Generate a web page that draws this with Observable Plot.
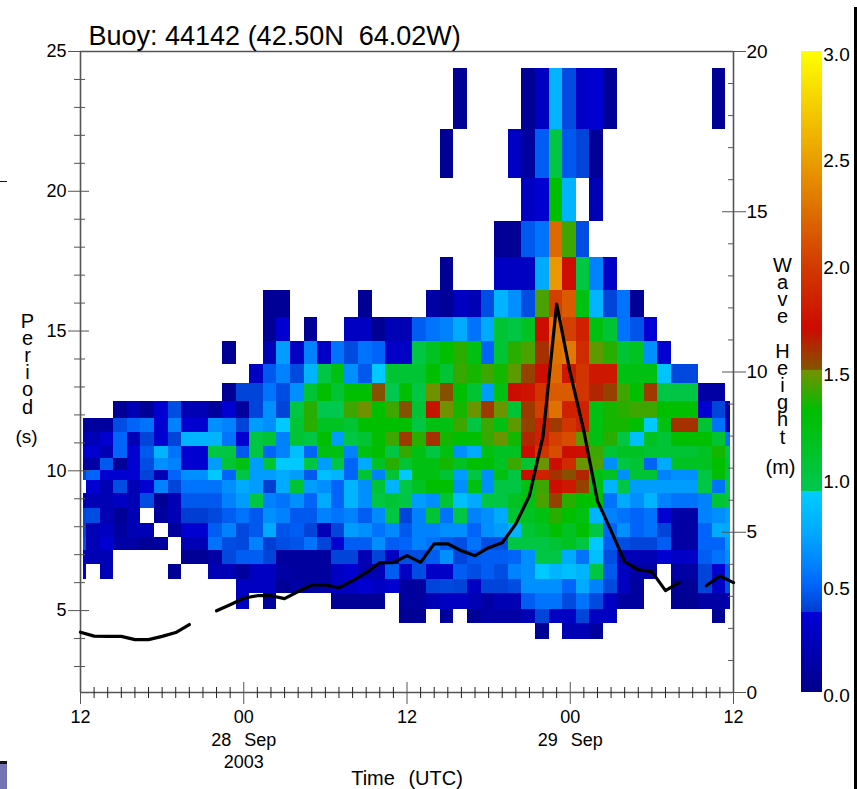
<!DOCTYPE html>
<html>
<head>
<meta charset="utf-8">
<script src="https://cdn.jsdelivr.net/npm/d3@7"></script>
<script src="https://cdn.jsdelivr.net/npm/@observablehq/plot@0.6"></script>
<style>
html,body{margin:0;padding:0;background:#fff;overflow:hidden}
#page{position:relative;width:857px;height:789px;font-family:"Liberation Sans",Arial,sans-serif}
#page svg{display:block}
.edge{position:absolute;display:block}
</style>
</head>
<body>
<div id="page"></div>
<script>
const _ = null;
// Period band edges in seconds, top to bottom
const periodEdges = [24.38,22.2,20.44,18.93,17.62,16.46,15.48,14.61,13.82,13.11,12.475,11.86,11.37,10.87,10.43,10.0,9.64,9.18,8.65,8.12,7.62,7.14,6.64,6.11,5.61,5.04,4.54,3.96];
// Spectrum rows: first entry is the first column (hours after 27 Sep 12 UTC), the others are readings per hour
const r00 = [28,.1,_,_,_,_,.1,.17,.75,.33,.18,.2,.1,_,_,_,_,_,_,_,.1];
const r01 = [27,.1,_,_,_,_,.17,.12,.42,1.05,.4,.3,.1];
const r02 = [33,.17,.2,1.25,.75,_,.15];
const r03 = [31,.1,.1,.4,.5,2.2,1.4,.35];
const r04 = [27,.1,_,_,_,.17,.17,.17,.7,2.5,1.75,1.05,.55,.18];
const r05 = [14,.1,.1,_,_,_,_,_,.1,_,_,_,_,.13,.1,.17,.15,.35,.75,.6,.35,1.42,2.0,2.1,1.2,.75,.3,.5,.1];
const r06 = [14,.1,.2,_,.1,_,_,.17,.17,.08,.15,.15,.42,.5,.55,.7,.5,.7,1.1,1.05,1.15,1.75,2.3,2.0,1.85,1.2,1.1,.5,.38,.25];
const r07 = [11,.08,_,_,.15,.65,.17,.55,.18,.5,.33,.5,.45,.18,.18,1.05,1.15,1.25,1.35,1.2,.45,1.1,1.35,1.42,1.62,2.25,2.3,1.9,1.45,1.35,1.1,1.15,.6,.2];
const r08 = [13,.17,.4,.55,.33,.75,1.05,1.2,.6,.4,.85,1.1,1.1,1.1,1.25,1.1,1.38,1.3,1.4,1.3,1.45,1.58,1.75,2.2,1.8,1.95,1.8,1.8,1.2,1.2,1.2,.82,.32,.32];
const r09 = [11,.1,.3,.3,.5,.35,.6,1.1,1.25,1.1,1.25,1.25,1.55,1.0,1.25,1.05,1.48,1.55,1.25,1.1,.65,1.2,1.72,1.78,1.95,2.1,2.1,1.95,1.65,1.58,1.4,1.25,1.6,1.05,1.05,1.05,.13,.13];
const r10 = [3,.1,.15,.1,.2,.35,.15,.15,.12,.2,.12,.3,.6,.3,1.05,1.35,1.0,1.0,1.4,1.48,1.25,1.4,1.53,1.1,1.7,1.48,1.3,1.47,1.6,1.47,1.1,1.6,2.0,2.25,1.85,1.85,1.2,1.3,1.35,1.4,1.4,1.25,1.25,1.25,.2,.3,.12];
const r11 = [0,.12,.12,.12,.35,.45,.5,.2,.55,.2,.2,.6,.55,.3,.65,.6,.85,1.1,1.35,1.15,1.15,1.1,1.25,1.25,1.25,1.25,1.05,1.2,1.2,1.4,1.05,1.4,1.2,1.45,1.58,1.85,1.6,1.95,1.85,1.2,1.3,1.3,1.25,.85,1.2,1.62,1.62,1.1,.5,.15];
const r12 = [0,.15,.15,.2,.45,.15,.3,.2,.3,.75,.75,.75,.5,.2,1.05,1.1,.55,1.1,1.05,1.25,.65,1.05,1.1,1.25,1.4,1.6,1.35,1.62,1.3,1.25,1.25,1.38,1.47,1.3,1.65,1.85,2.0,2.05,1.45,1.2,1.35,1.05,.8,1.15,1.1,1.25,1.25,1.25,1.1,.5];
const r13 = [0,.2,.2,.15,.45,.2,.4,.75,.5,.2,.2,1.05,1.05,.4,1.05,.45,.55,.8,.45,1.2,1.2,.55,1.2,1.25,1.05,1.38,1.2,1.05,1.2,.6,.7,1.2,1.15,1.15,1.72,1.95,2.05,1.75,1.75,1.4,1.1,1.15,1.15,1.1,1.1,1.1,1.1,1.15,1.3,1.05];
const r14 = [0,.13,.13,.4,.1,.2,.35,.6,.55,.2,.2,.65,1.1,1.2,.65,1.1,.85,.85,1.05,.65,1.05,.45,.7,1.15,1.35,1.1,1.2,1.2,1.3,1.15,1.25,1.25,1.15,1.4,1.1,1.47,1.75,1.9,1.47,1.42,.6,1.05,1.1,.45,.7,1.15,1.15,1.15,1.25,1.1];
const r15 = [0,.3,.45,.2,.2,.2,.3,.15,.45,.6,.6,.85,.45,1.05,.65,.65,.7,.65,.4,.8,.75,.45,1.1,.55,1.1,.85,1.2,1.2,1.1,.65,1.05,.6,1.2,1.05,1.72,1.85,1.62,1.55,1.65,1.2,1.15,.6,1.1,1.1,.55,.6,.6,1.05,1.25,1.05];
const r16 = [1,.2,.15,.35,.15,.22,.55,.3,.5,.5,.5,.6,.7,.65,.28,.7,1.1,.65,.6,.45,.75,.6,1.1,.75,1.05,1.15,1.25,1.25,.6,1.2,.6,1.05,1.05,1.2,1.4,1.75,1.8,1.58,1.2,.75,1.05,.65,.65,.65,.65,.65,1.05,.5,1.05];
const r17 = [0,.15,.15,.15,.17,.15,.35,.1,.15,.4,.4,.4,.55,.65,1.05,.55,.5,.6,.45,.7,.45,.75,.6,1.05,1.1,1.05,.65,.6,1.1,.8,.7,1.05,1.05,1.15,1.2,1.42,1.58,1.35,1.25,1.25,.5,.7,.6,.75,.55,.5,.5,.55,1.1,1.05];
const r18 = [0,.3,.35,.15,.1,.15,_,.12,.15,.28,.28,.32,.42,.5,.4,.6,.55,.4,.4,.55,.5,.55,.42,.58,1.05,.3,.55,1.1,.5,1.05,.55,.6,.7,1.1,1.15,1.2,1.35,1.25,1.2,.75,.55,.5,.45,.5,.2,.13,.13,.55,.6,.65];
const r19 = [0,.3,.15,.17,.12,.15,.15,_,.12,.2,.2,.42,.55,.32,.4,.7,.38,.42,.3,.15,.3,.65,.6,.5,.58,.4,.55,.55,.6,.6,.45,.6,.65,.75,1.1,1.15,1.25,1.15,1.25,1.05,.45,.6,.45,.5,.3,.13,.13,.45,.7,.7];
const r20 = [0,.35,.15,.2,.13,.13,.1,.12,_,.15,.15,.5,.35,.32,.55,.28,.35,.38,.5,.3,.2,.42,.42,.6,.42,.45,.55,.5,.4,.35,.5,.35,.35,1.05,1.05,1.05,1.1,1.15,1.05,.85,.42,.35,.3,.3,.42,.13,.13,.45,.45,.65];
const r21 = [0,.2,.15,.15,_,_,_,_,_,.1,.1,.13,.32,.42,.42,.3,.12,.12,.12,.12,.3,.3,.15,.3,.17,.35,.35,.42,.6,.3,.4,.42,.42,.45,.6,1.05,1.05,.7,.5,.8,.35,.15,.15,.15,.2,.18,.18,.42,.5,.6];
const r22 = [0,.2,_,.15,_,_,_,_,.08,_,_,.15,.15,.12,.17,.17,.13,.12,.12,.12,.17,.2,.15,.15,.42,.17,.35,.18,.18,.42,.35,.42,.35,.55,.6,.85,.75,.8,.75,1.05,.4,.17,.13,.13,_,.13,.13,.3,.2,.4];
const r23 = [12,.17,.17,.17,.1,.13,.12,.13,.17,.17,.2,.17,.2,.12,.12,.3,.32,.3,.17,.3,.3,.35,.6,.6,.6,.45,.7,.55,.32,.17,.12,_,_,.1,.1,.3,.17,.35];
const r24 = [12,.17,_,.12,_,_,_,_,.1,.1,.1,.1,_,.12,.12,.15,.17,.17,.15,.13,.15,.15,.42,.5,.5,.33,.5,.33,.17,.12,.12,_,_,.07,.07,.13,.13,.15];
const r25 = [24,.1,.1,_,.12,_,.1,.13,.13,.13,.15,.3,.17,.17,.3,.17,.17,_,_,_,_,_,_,_,.1];
const r26 = [34,.08,_,.15,.15,.12];
const spectrumRows = [r00,r01,r02,r03,r04,r05,r06,r07,r08,r09,r10,r11,r12,r13,r14,r15,r16,r17,r18,r19,r20,r21,r22,r23,r24,r25,r26];
// Column edges in hours after 27 Sep 12 UTC
const timeEdges = [0.24,0.46,...d3.range(1.44,47.5,1),47.78];
// Significant wave height (m), hourly
const waveHeight = [1.88,1.76,1.75,1.75,1.65,1.65,1.75,1.87,2.12,_,2.55,2.74,2.94,3.02,3.02,2.93,3.15,3.36,3.36,3.27,3.49,3.74,4.05,4.05,4.27,4.06,4.64,4.64,4.42,4.27,4.52,4.67,5.26,6.14,8.0,12.12,9.97,8.16,5.98,5.05,4.08,3.83,3.77,3.18,3.43,_,3.33,3.64,3.43];
// Colour bar
const colorStops = [0,.375,.376,.5,.6,.75,.94,.941,1.32,1.505,1.506,1.7,2.0,2.5,3.0];
const colorRange = ["rgb(0,0,140)","rgb(0,0,215)","rgb(0,60,210)","rgb(0,100,250)","rgb(0,130,255)","rgb(0,170,255)","rgb(0,205,255)","rgb(0,200,80)","rgb(0,190,0)","rgb(115,145,0)","rgb(130,85,0)","rgb(205,10,0)","rgb(210,60,0)","rgb(235,160,0)","rgb(255,255,0)"];
const colorLabels = [0,.5,1,1.5,2,2.5,3];
const shadeRead = [0,.1,.13,.15,.17,.2,.25,.28,.3,.35,.45,.55,.7,.85,.9,1.0,1.05,1.25,1.4,1.48,1.55,1.62,1.75,1.95,2.1,2.3,2.55,3];
const shadeBar  = [0,.05,.12,.2,.27,.34,.37,.38,.40,.43,.5,.6,.75,.92,.94,.945,1.0,1.32,1.42,1.5,1.52,1.6,1.72,1.95,2.15,2.3,2.5,3];
// Axes
const periodDomain = [2.07,25];
const periodMajor = [5,10,15,20,25];
const periodMinor = [3,4,6,7,8,9,11,12,13,14,16,17,18,19,21,22,23,24];
const heightMajor = [0,5,10,15,20];
const heightMinor = [1,2,3,4,6,7,8,9,11,12,13,14,16,17,18,19];
const timeMajor = [0,12,24,36,48];
const timeLabels = ["12","00\n28 Sep\n2003","12","00\n29 Sep","12"];
const timeMinor = d3.range(0,49).filter(h => h % 12);

const shade = d3.scaleLinear(shadeRead, shadeBar);
const heightToPeriod = h => periodDomain[0] + h * (periodDomain[1]-periodDomain[0]) / 20;
const levelToPeriod = v => periodDomain[0] + v * (periodDomain[1]-periodDomain[0]) / 3;

const cells = [];
spectrumRows.forEach((row,i) => {
  const [start,...values] = row;
  values.forEach((v,j) => {
    if (v === null) return;
    const c = start + j;
    cells.push({x1:timeEdges[c],x2:timeEdges[c+1],y1:periodEdges[i],y2:periodEdges[i+1],v:shade(v)});
  });
});
const line = waveHeight.map((h,t) => ({t, h}));
const barStep = 3/640;
const barLevels = d3.range(0,3,barStep);
const barLeft = 53.01, barRight = 54.52, barText = 54.6;

const ink = "#555";
const chart = Plot.plot({
  width:857,height:789,
  marginLeft:80,marginRight:124,marginTop:51,marginBottom:97,
  style:{fontFamily:'"Liberation Sans",Arial,sans-serif',background:"#fff",color:"#000",overflow:"visible"},
  x:{domain:[0,48],axis:null},
  y:{domain:periodDomain,axis:null},
  color:{type:"linear",domain:colorStops,range:colorRange,clamp:true},
  marks:[
    Plot.rect(cells,{x1:"x1",x2:"x2",y1:"y1",y2:"y2",fill:"v",shapeRendering:"crispEdges"}),
    Plot.rect(barLevels,{x1:barLeft,x2:barRight,y1:d=>levelToPeriod(d),y2:d=>levelToPeriod(d+barStep*1.4),fill:d=>d+barStep/2,shapeRendering:"crispEdges"}),
    Plot.text(colorLabels,{x:barText,y:d=>levelToPeriod(d),text:d=>d.toFixed(1),textAnchor:"start",dy:3,fontSize:19}),
    // frame
    Plot.ruleX([0,48],{stroke:ink,strokeWidth:1.6}),
    Plot.ruleY(periodDomain,{stroke:ink,strokeWidth:1.6}),
    // left axis
    Plot.axisY(periodMajor,{anchor:"left",tickSize:12,tickPadding:2,fontSize:18,stroke:ink,label:null,tickFormat:d=>d}),
    Plot.axisY(periodMajor,{anchor:"left",tickSize:-9,fill:"none",stroke:ink,label:null}),
    Plot.axisY(periodMinor,{anchor:"left",tickSize:6,fill:"none",stroke:ink,label:null}),
    Plot.axisY(periodMinor,{anchor:"left",tickSize:-5,fill:"none",stroke:ink,label:null}),
    // right axis
    Plot.axisY(heightMajor.map(heightToPeriod),{anchor:"right",tickSize:12,tickPadding:1,fontSize:19,stroke:ink,label:null,tickFormat:d=>Math.round((d-periodDomain[0])*20/(periodDomain[1]-periodDomain[0]))}),
    Plot.axisY(heightMajor.map(heightToPeriod),{anchor:"right",tickSize:-12,fill:"none",stroke:ink,label:null}),
    Plot.axisY(heightMinor.map(heightToPeriod),{anchor:"right",tickSize:-6,fill:"none",stroke:ink,label:null}),
    // bottom axis
    Plot.axisX(timeMajor,{anchor:"bottom",tickSize:12,tickPadding:2,fontSize:18,lineHeight:1.27,stroke:ink,label:null,tickFormat:d=>timeLabels[timeMajor.indexOf(d)]}),
    Plot.axisX(timeMajor,{anchor:"bottom",tickSize:-10,fill:"none",stroke:ink,label:null}),
    Plot.axisX(timeMinor,{anchor:"bottom",tickSize:6,fill:"none",stroke:"#222",label:null}),
    Plot.axisX(timeMinor,{anchor:"bottom",tickSize:-5,fill:"none",stroke:"#222",label:null}),
    // wave height
    Plot.line(line,{x:"t",y:d=>d.h===null?null:heightToPeriod(d.h),stroke:"#000",strokeWidth:3.2,curve:"linear"}),
    // titles
    Plot.text(["Buoy: 44142 (42.50N  64.02W)"],{frameAnchor:"top-left",dx:8,dy:-15,lineAnchor:"middle",textAnchor:"start",fontSize:27,text:d=>d}),
    Plot.text(["Time (UTC)"],{frameAnchor:"bottom",dx:0,dy:86,lineAnchor:"middle",textAnchor:"middle",fontSize:20,text:d=>d}),
    Plot.text(["P\ne\nr\ni\no\nd"],{frameAnchor:"left",dx:-53,dy:-7,lineAnchor:"middle",textAnchor:"middle",fontSize:20,lineHeight:.86,text:d=>d}),
    Plot.text(["(s)"],{frameAnchor:"left",dx:-54,dy:65,lineAnchor:"middle",textAnchor:"middle",fontSize:19,text:d=>d}),
    Plot.text(["W\na\nv\ne\n\nH\ne\ni\ng\nh\nt"],{frameAnchor:"right",dx:49,dy:-20,lineAnchor:"middle",textAnchor:"middle",fontSize:20,lineHeight:.86,text:d=>d}),
    Plot.text(["(m)"],{frameAnchor:"right",dx:47,dy:96,lineAnchor:"middle",textAnchor:"middle",fontSize:20,text:d=>d})
  ]
});
// the reference sets a wide space between words in these labels
chart.querySelectorAll("tspan, text").forEach(t => {
  if (t.children.length === 0 && /Sep|Time/.test(t.textContent)) t.style.wordSpacing = "8px";
});
const page = document.getElementById("page");
page.appendChild(chart);
// edge pieces of the screen capture
[["left:0;top:763px;width:7px;height:26px;background:#7474b4"],
 ["left:0;top:761px;width:7px;height:3px;background:#111"],
 ["left:0;top:181px;width:7px;height:1px;background:#111"],
 ["left:854px;top:7px;width:3px;height:782px;background:#000"]
].forEach(([css]) => { const d=document.createElement("div"); d.className="edge"; d.style.cssText=css; page.appendChild(d); });
</script>
</body>
</html>
